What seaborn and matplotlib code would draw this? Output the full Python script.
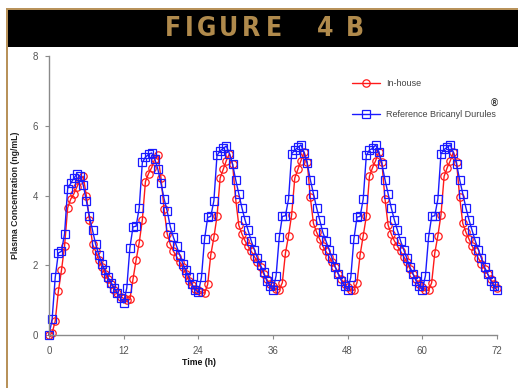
import numpy as np
import pandas as pd
import matplotlib
matplotlib.use("Agg")
import matplotlib.pyplot as plt
from matplotlib.patches import Rectangle
from matplotlib import font_manager
import seaborn as sns

# ---------------- data ----------------
time_h = [
    0, 0.5, 1, 1.5, 2, 2.5, 3, 3.5, 4, 4.5, 5, 5.5, 6, 6.5, 7, 7.5, 8, 8.5, 9, 9.5, 10, 10.5, 11, 11.5,
    12, 12.5, 13, 13.5, 14, 14.5, 15, 15.5, 16, 16.5, 17, 17.5, 18, 18.5, 19, 19.5, 20, 20.5, 21, 21.5, 22, 22.5, 23, 23.5,
    24, 24.5, 25, 25.5, 26, 26.5, 27, 27.5, 28, 28.5, 29, 29.5, 30, 30.5, 31, 31.5, 32, 32.5, 33, 33.5, 34, 34.5, 35, 35.5,
    36, 36.5, 37, 37.5, 38, 38.5, 39, 39.5, 40, 40.5, 41, 41.5, 42, 42.5, 43, 43.5, 44, 44.5, 45, 45.5, 46, 46.5, 47, 47.5,
    48, 48.5, 49, 49.5, 50, 50.5, 51, 51.5, 52, 52.5, 53, 53.5, 54, 54.5, 55, 55.5, 56, 56.5, 57, 57.5, 58, 58.5, 59, 59.5,
    60, 60.5, 61, 61.5, 62, 62.5, 63, 63.5, 64, 64.5, 65, 65.5, 66, 66.5, 67, 67.5, 68, 68.5, 69, 69.5, 70, 70.5, 71, 71.5, 72,
]

in_house = [
    0.00, 0.05, 0.40, 1.25, 1.85, 2.55, 3.65, 3.90, 4.05, 4.25, 4.45, 4.55, 4.00, 3.30, 2.60, 2.40, 2.15, 1.95, 1.75, 1.60, 1.45, 1.30, 1.20, 1.10,
    1.05, 1.00, 1.02, 1.60, 2.15, 2.65, 3.30, 4.40, 4.63, 4.80, 5.05, 5.15, 4.50, 3.60, 2.90, 2.60, 2.40, 2.25, 2.10, 1.95, 1.75, 1.55, 1.42, 1.32,
    1.28, 1.22, 1.20, 1.45, 2.30, 2.80, 3.40, 4.50, 4.75, 5.00, 5.20, 4.90, 3.90, 3.15, 2.90, 2.70, 2.55, 2.40, 2.25, 2.10, 1.95, 1.75, 1.60, 1.45,
    1.40, 1.32, 1.30, 1.50, 2.35, 2.85, 3.45, 4.50, 4.75, 5.00, 5.25, 4.95, 3.95, 3.20, 2.95, 2.75, 2.55, 2.40, 2.25, 2.10, 1.95, 1.75, 1.60, 1.45,
    1.38, 1.30, 1.28, 1.50, 2.30, 2.85, 3.40, 4.55, 4.80, 5.00, 5.25, 4.95, 3.90, 3.15, 2.90, 2.70, 2.55, 2.40, 2.25, 2.10, 1.90, 1.75, 1.60, 1.45,
    1.38, 1.30, 1.28, 1.50, 2.35, 2.85, 3.45, 4.55, 4.80, 5.00, 5.25, 4.95, 3.95, 3.20, 2.95, 2.75, 2.55, 2.40, 2.20, 2.05, 1.90, 1.75, 1.60, 1.45, 1.35,
]

reference = [
    0.00, 0.45, 1.65, 2.35, 2.40, 2.90, 4.20, 4.35, 4.50, 4.62, 4.55, 4.30, 3.85, 3.40, 3.00, 2.60, 2.30, 2.05, 1.85, 1.65, 1.50, 1.35, 1.20, 1.05,
    0.92, 1.35, 2.50, 3.10, 3.12, 3.65, 4.95, 5.10, 5.18, 5.22, 5.05, 4.75, 4.35, 3.90, 3.55, 3.10, 2.80, 2.55, 2.30, 2.05, 1.85, 1.65, 1.45, 1.30,
    1.22, 1.65, 2.75, 3.37, 3.40, 3.85, 5.15, 5.28, 5.35, 5.42, 5.20, 4.90, 4.45, 4.05, 3.65, 3.30, 3.00, 2.70, 2.45, 2.20, 2.00, 1.80, 1.55, 1.40,
    1.30, 1.70, 2.80, 3.40, 3.42, 3.90, 5.20, 5.30, 5.38, 5.45, 5.22, 4.92, 4.45, 4.05, 3.65, 3.30, 2.95, 2.70, 2.45, 2.20, 1.95, 1.75, 1.55, 1.40,
    1.30, 1.65, 2.75, 3.38, 3.40, 3.90, 5.15, 5.30, 5.35, 5.45, 5.25, 4.90, 4.45, 4.05, 3.65, 3.30, 3.00, 2.70, 2.45, 2.20, 1.95, 1.75, 1.55, 1.40,
    1.30, 1.70, 2.80, 3.40, 3.42, 3.90, 5.20, 5.32, 5.38, 5.45, 5.22, 4.90, 4.45, 4.05, 3.65, 3.30, 3.00, 2.70, 2.45, 2.20, 1.95, 1.75, 1.55, 1.40, 1.28,
]

series_labels = ["In-house", "Reference Bricanyl Durules"]
x_ticks = [0, 12, 24, 36, 48, 60, 72]
y_ticks = [0, 2, 4, 6, 8]

# ---------------- style ----------------
sns.set_style("white")
plt.rcParams["font.family"] = ["Liberation Sans", "DejaVu Sans"]

W, H = 518, 388
fig = plt.figure(figsize=(W / 100, H / 100), dpi=100)
fig.patch.set_facecolor("white")

tan = "#b8925a"
# banner and border
fig.patches.append(Rectangle((6 / W, 0), 2 / W, 1 - 8 / H, transform=fig.transFigure,
                             facecolor=tan, edgecolor="none", zorder=0))
fig.patches.append(Rectangle((6 / W, 1 - 10 / H), 1 - 6 / W, 2 / H, transform=fig.transFigure,
                             facecolor=tan, edgecolor="none", zorder=0))
fig.patches.append(Rectangle((8 / W, 1 - 47 / H), 1 - 8 / W, 37 / H, transform=fig.transFigure,
                             facecolor="black", edgecolor="none", zorder=0))

# pick a narrow family for the banner if available
avail = {f.name for f in font_manager.fontManager.ttflist}
title_family = ["Liberation Sans Narrow"] if "Liberation Sans Narrow" in avail else ["DejaVu Sans"]

title_chars = ["F", "I", "G", "U", "R", "E", "4", "B"]
title_x = [172.5, 189, 206.5, 228.5, 251, 274, 325.5, 355]
for ch, xp in zip(title_chars, title_x):
    fig.text(xp / W, 1 - 28.5 / H, ch, ha="center", va="center", color="#b08a4c",
             fontsize=19, fontweight="bold", family=title_family, fontstretch="condensed")

# axes box
left, right, top, bottom = 49, 497, 56, 335
ax = fig.add_axes([left / W, 1 - bottom / H, (right - left) / W, (bottom - top) / H])

df = pd.DataFrame({"time": time_h * 2,
                   "conc": in_house + reference,
                   "series": [series_labels[0]] * len(time_h) + [series_labels[1]] * len(time_h)})

colors = {"In-house": "#ff1a1a", "Reference Bricanyl Durules": "#1a1aff"}
markers = {"In-house": "o", "Reference Bricanyl Durules": "s"}
for lab in series_labels:
    sub = df[df["series"] == lab]
    sns.lineplot(data=sub, x="time", y="conc", ax=ax, color=colors[lab], linewidth=1.0,
                 marker=markers[lab], markersize=5.3, markerfacecolor="none",
                 markeredgecolor=colors[lab], markeredgewidth=0.9, label=lab,
                 clip_on=False, estimator=None, sort=False)

ax.set_xlim(0, 72)
ax.set_ylim(0, 8)
ax.set_xticks(x_ticks)
ax.set_yticks(y_ticks)
ax.set_xticklabels([str(v) for v in x_ticks])
ax.set_yticklabels([str(v) for v in y_ticks])

for s in ["top", "right"]:
    ax.spines[s].set_visible(False)
for s in ["left", "bottom"]:
    ax.spines[s].set_color("#8a8a8a")
    ax.spines[s].set_linewidth(1.0)
ax.tick_params(axis="both", which="major", direction="out", length=3, width=0.8,
               color="#8a8a8a", labelsize=7, labelcolor="#555555", pad=5,
               left=True, bottom=True)

ax.set_xlabel("Time (h)", fontsize=6.3, fontweight="bold", color="#111111")
ax.xaxis.set_label_coords((199 - left) / (right - left), -(358 - bottom) / (bottom - top))
ax.set_ylabel("Plasma Concentration (ng/mL)", fontsize=6.3, fontweight="bold", color="#222222")
ax.yaxis.set_label_coords(-(left - 20) / (right - left), 0.5)

leg = ax.legend(loc="upper left",
                bbox_to_anchor=((352 - left) / (right - left), (bottom - 79) / (bottom - top)),
                frameon=False, fontsize=6.5, handlelength=3.1, handletextpad=0.7,
                labelspacing=2.4, borderpad=0, borderaxespad=0)
for t in leg.get_texts():
    t.set_color("#444444")

fig.text(494 / W, 1 - 104 / H, "®", ha="center", va="center", fontsize=7,
         fontweight="bold", color="#333333")

fig.savefig("out.png", dpi=100, facecolor="white")
